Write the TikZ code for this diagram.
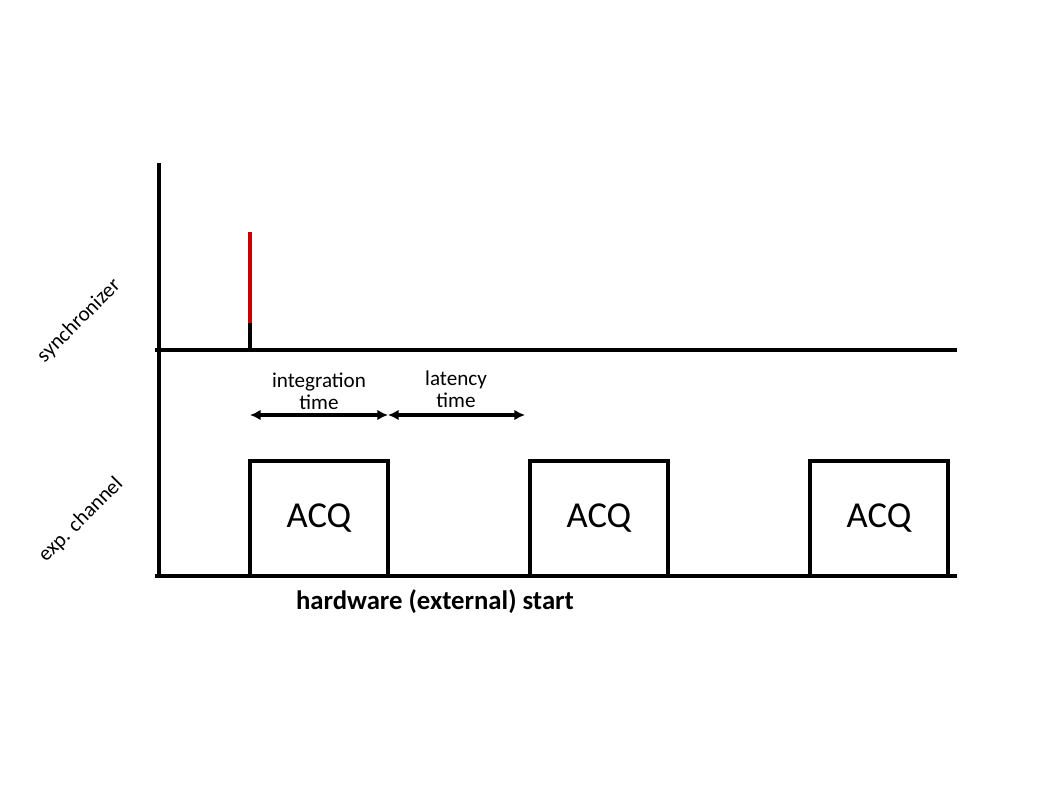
\documentclass[tikz,border=0pt]{standalone}
\usepackage{fontspec}
\setmainfont{Carlito}
\usetikzlibrary{arrows.meta,positioning}

\begin{document}
\begin{tikzpicture}[
  x=0.025cm, y=-0.025cm,
  axis/.style={line width=2.2pt},
  acq/.style={draw, line width=2.2pt, minimum width=3.45cm, minimum height=2.875cm, inner sep=0pt, font=\fontsize{26}{30}\selectfont},
  span/.style={{Latex[length=7.5pt,width=7.5pt]}-{Latex[length=7.5pt,width=7.5pt]}, line width=2.3pt},
  note/.style={font=\fontsize{15}{15.5}\selectfont, align=center},
  chan/.style={font=\fontsize{15}{17}\selectfont, rotate=45}
]
\useasboundingbox (0,0) rectangle (1058,794);
% axes
\coordinate (top) at (159,163);
\coordinate (origin) at (159,577);
\coordinate (syncL) at (155,350);
\coordinate (syncR) at (957,350);
\coordinate (expL) at (155,576);
\coordinate (expR) at (957,576);
\draw[axis] (top) -- (origin);
\draw[axis] (syncL) -- (syncR);
\draw[axis] (expL) -- (expR);
% trigger pulse
\coordinate (pulseTop) at (250,232);
\coordinate (pulseMid) at (250,323);
\coordinate (pulseBot) at (250,351);
\draw[red!80!black, line width=2.6pt] (pulseTop) -- (pulseMid);
\draw[line width=2.6pt] (pulseMid) -- (pulseBot);
% acquisitions
\node[acq] (acq1) at (319,518.5) {ACQ};
\node[acq] (acq2) at (599,518.5) {ACQ};
\node[acq] (acq3) at (879,518.5) {ACQ};
% timing spans
\coordinate (intA) at (250,415);
\coordinate (intB) at (388,415);
\coordinate (latB) at (525,415);
\draw[span] (intA) -- (intB);
\draw[span] (intB) -- (latB);
\node[note] (integ) at (319,391) {integration\\time};
\node[note] (lat) at (456,389) {latency\\time};
% channel labels
\node[chan] (synclbl) at (79,321) {synchronizer};
\node[chan] (explbl) at (81,520) {exp. channel};
\node[font=\fontsize{19}{22}\selectfont\bfseries] (title) at (435,602) {hardware (external) start};
\end{tikzpicture}
\end{document}
